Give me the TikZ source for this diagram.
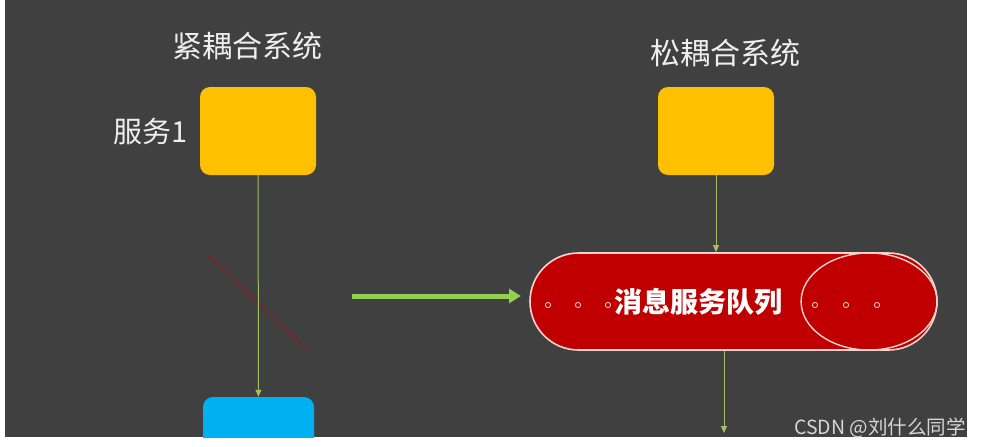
\documentclass[tikz,border=0pt]{standalone}
\usepackage{fontspec}
\setmainfont{Noto Sans CJK SC}
\usetikzlibrary{arrows.meta, positioning, shapes.geometric, shapes.misc, calc}
\definecolor{cplbg}{HTML}{404040}
\definecolor{cplyellow}{HTML}{FFC000}
\definecolor{cplblue}{HTML}{00B0F0}
\definecolor{cplred}{HTML}{C00000}
\definecolor{cplgreen}{HTML}{92D050}
\definecolor{cplolive}{HTML}{A3BF62}
\definecolor{cplrim}{HTML}{F6D3CF}
\definecolor{cpltext}{HTML}{EEEEEE}
\tikzset{
  svcbox/.style={rectangle, rounded corners=10pt, minimum width=116pt, minimum height=88pt, inner sep=0pt},
  systitle/.style={text=cpltext, font=\fontsize{30}{32}\selectfont, inner sep=0pt},
  svclabel/.style={text=cpltext, font=\fontsize{29}{31}\selectfont, inner sep=0pt},
  queue/.style={rounded rectangle, minimum width=407pt, minimum height=97pt, inner sep=0pt,
    fill=cplred, draw=cplrim, line width=1.6pt, text=white, font=\bfseries\fontsize{28}{30}\selectfont},
  queueend/.style={ellipse, minimum width=136pt, minimum height=97pt, inner sep=0pt, draw=cplrim, line width=1.4pt},
  dotring/.style={draw=cplrim, line width=0.8pt},
  thinarr/.style={-{Triangle[length=7pt, width=6pt]}, line width=1pt, cplolive},
  bigarr/.style={-{Triangle[length=12pt, width=14pt]}, line width=5pt, cplgreen},
  cutline/.style={line width=2pt, cplred, opacity=0.35},
  wmarktext/.style={text=cpltext!90!black, font=\fontsize{19.5}{21}\selectfont, inner sep=0pt},
}
\begin{document}
\begin{tikzpicture}[x=1pt, y=-1pt]
  \useasboundingbox (0,0) rectangle (983,447);
  \fill[white] (0,0) rectangle (983,447);
  \fill[cplbg] (5,0) rectangle (967,437);
  \begin{scope}
    \clip (5,0) rectangle (967,437);
    \node[systitle] (tighttitle) at (247,46) {紧耦合系统};
    \node[svcbox, fill=cplyellow] (svca) at (258,131) {};
    \node[svclabel, left=12pt of svca] (svcalabel) {服务1};
    \node[svcbox, fill=cplblue, minimum width=111pt, minimum height=80pt] (svcb) at (258.5,437) {};
    \node[svclabel, anchor=east] (svcblabel) at (190,452) {服务2};
    \coordinate (cuta) at (208,255);
    \coordinate (cutb) at (310,352);
    \draw[cutline] (cuta) -- (cutb);
    \draw[thinarr] (svca) -- (svcb);

    \node[systitle] (loosetitle) at (725,53) {松耦合系统};
    \node[svcbox, fill=cplyellow] (svcc) at (716,131) {};
    \node[queue] (mq) at (733.5,301.5) {};
    \node[queueend, anchor=east] (mqend) at (mq.east) {};
    \node[text=white, font=\bfseries\fontsize{28}{30}\selectfont, inner sep=0pt] (mqtext) at (698,302) {消息服务队列};
    \foreach \x in {548,578,608,815,846,877}
      \draw[dotring] (\x,305) circle (2.6pt);
    \draw[thinarr] (svcc.south) -- (svcc.south |- mq.north);
    \coordinate (mqout) at (724,433);
    \draw[thinarr] (mqout |- mq.south) -- (mqout);

    \coordinate (bigfrom) at (352,296);
    \coordinate (bigto) at (521,296);
    \draw[bigarr] (bigfrom) -- (bigto);
  \end{scope}
  \node[wmarktext, anchor=east] (wmark) at (966,428) {CSDN @刘什么同学};
\end{tikzpicture}
\end{document}
